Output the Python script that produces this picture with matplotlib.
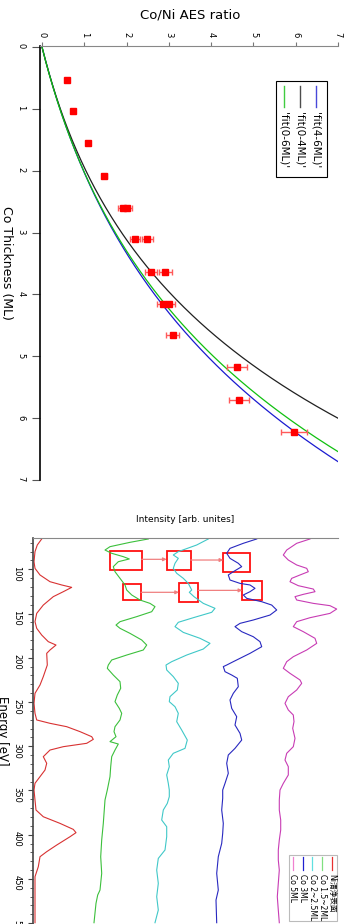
import numpy as np
import matplotlib
matplotlib.use('Agg')
import matplotlib.pyplot as plt
from matplotlib.lines import Line2D
from matplotlib.patches import Rectangle

plt.rcParams['font.family'] = ['DejaVu Sans', 'Noto Sans CJK JP']

# ---- datos: panel superior (razon AES Co/Ni vs espesor) ----
espesor = [0.53, 1.03, 1.56, 2.08, 2.60, 2.60, 3.11, 3.11, 3.63, 3.63, 4.15, 4.15, 4.66, 5.18, 5.70, 6.22]
razon = [0.58, 0.74, 1.08, 1.47, 1.91, 2.02, 2.20, 2.49, 2.58, 2.92, 2.87, 3.01, 3.09, 4.61, 4.66, 5.96]
error = [0.04, 0.04, 0.05, 0.06, 0.12, 0.12, 0.12, 0.13, 0.14, 0.15, 0.14, 0.14, 0.16, 0.23, 0.24, 0.30]

# parametros de los ajustes  r = A*(exp(t/lam)-1)
fit_nombres = ["'fit(4-6ML)'", "'fit(0-4ML)'", "'fit(0-6ML)'"]
fit_A = [1.367, 1.095, 1.277]
fit_lam = [3.7, 3.0, 3.5]
fit_colores = ['#1a1ad0', '#202020', '#10c010']

# ---- datos: panel inferior (espectros AES) ----
E_ni = [65.7, 72.5, 80.0, 91.4, 98.9, 106.4, 114.0, 117.7, 120.4, 125.3, 130.9, 140.4, 149.8, 159.2, 166.7,
        174.3, 181.8, 185.6, 191.2, 195.0, 208.2, 221.3, 230.8, 240.2, 251.5, 262.8, 270.3, 274.1, 277.9,
        283.5, 289.2, 292.2, 296.7, 300.5, 304.3, 311.8, 319.3, 326.9, 334.4, 341.9, 349.5, 360.8, 372.1,
        379.7, 387.2, 394.0, 397.7, 402.3, 411.7, 419.2, 424.9, 436.2, 447.5, 462.6, 499.5]
I_ni = [8.7, 4.3, 2.0, 1.0, 2.0, 7.0, 17.0, 28.7, 38.7, 30.3, 20.3, 10.3, 3.7, 2.0, 3.7,
        8.7, 15.3, 23.0, 17.0, 13.7, 14.3, 10.3, 7.0, 2.0, 1.0, 2.0, 3.7, 17.0, 33.7,
        47.0, 58.7, 60.3, 53.7, 30.3, 17.0, 10.3, 13.7, 12.0, 7.0, 2.0, 1.0, 2.0, 3.0,
        10.3, 27.0, 40.3, 43.0, 37.0, 23.7, 13.7, 7.0, 5.3, 2.0, 2.0, 2.0]

E_co15 = [65.7, 69.5, 74.4, 78.2, 81.9, 85.7, 88.3, 91.4, 97.0, 102.7, 110.2, 117.7, 123.4, 129.0, 134.7,
          138.5, 142.2, 147.9, 153.5, 159.2, 163.0, 166.7, 172.4, 179.9, 185.6, 191.2, 196.9, 202.5,
          208.2, 211.9, 219.5, 227.0, 234.5, 242.1, 249.6, 257.2, 262.8, 270.3, 277.9, 283.5, 289.2,
          294.8, 297.5, 304.3, 311.8, 323.1, 334.4, 349.5, 360.8, 387.2, 406.0, 424.9, 443.7, 462.6,
          468.2, 477.6, 499.5]
I_co15 = [55.3, 37.0, 17.0, 12.0, 18.7, 30.3, 36.3, 25.3, 20.3, 22.0, 27.0, 32.0, 33.7, 38.7, 47.0,
          57.0, 62.0, 58.7, 43.7, 27.0, 23.0, 27.0, 37.0, 48.7, 53.7, 50.3, 33.7, 18.7,
          15.3, 14.3, 20.3, 27.0, 27.7, 24.3, 22.0, 26.3, 28.7, 27.0, 22.0, 21.0, 23.0,
          17.0, 25.3, 22.0, 18.7, 17.7, 17.0, 14.3, 12.0, 10.3, 8.7, 7.7, 8.7, 7.0,
          4.7, 3.0, 1.0]

E_co2 = [65.7, 72.5, 80.0, 83.8, 87.6, 93.2, 98.9, 104.5, 110.2, 115.9, 123.4, 126.0, 130.9, 138.5, 144.1,
         148.6, 154.7, 159.9, 164.8, 171.3, 178.0, 183.7, 190.1, 196.9, 204.4, 208.2, 213.8, 221.3,
         228.9, 236.4, 243.9, 249.6, 255.3, 262.8, 272.2, 281.7, 293.0, 302.4, 308.0, 315.6, 323.1,
         332.5, 342.0, 349.5, 357.0, 364.6, 372.1, 383.4, 391.0, 402.3, 417.3, 426.8, 440.0, 455.0,
         470.1, 485.2, 499.5]
I_co2 = [55.3, 43.7, 25.3, 20.3, 25.3, 22.0, 20.3, 23.7, 30.3, 35.3, 38.7, 36.3, 41.0, 50.3, 62.0,
         58.7, 40.3, 25.3, 22.0, 30.3, 47.0, 57.0, 50.3, 33.7, 18.7, 13.0, 13.7, 20.3,
         25.3, 24.3, 17.0, 16.3, 22.0, 25.3, 23.7, 28.7, 34.3, 32.0, 20.3, 15.3, 16.3,
         13.7, 15.3, 16.3, 16.3, 14.3, 10.3, 8.7, 13.7, 13.7, 12.0, 5.3, 3.7, 5.3,
         3.7, 5.3, 2.0]

E_co3 = [65.7, 70.6, 76.3, 81.9, 87.6, 93.2, 97.0, 102.7, 106.4, 112.1, 115.9, 117.7, 121.5, 125.3, 129.0,
         132.8, 136.6, 140.4, 146.0, 151.7, 157.3, 161.1, 164.8, 170.5, 176.2, 181.8, 187.5, 195.0,
         204.4, 208.2, 210.0, 215.7, 219.5, 223.2, 232.7, 240.2, 247.7, 257.2, 266.6, 276.0, 285.4,
         293.0, 302.4, 309.9, 319.3, 330.6, 342.0, 349.5, 358.9, 372.1, 387.2, 398.5, 409.8, 424.9,
         443.7, 462.6, 473.9, 499.5]
I_co3 = [43.7, 30.3, 17.0, 13.7, 17.0, 25.3, 28.7, 20.3, 15.3, 17.0, 27.0, 37.0, 42.0, 37.0, 30.3,
         33.7, 48.7, 58.7, 63.7, 57.0, 40.3, 27.0, 22.0, 28.7, 40.3, 47.0, 48.7, 37.0,
         20.3, 13.7, 10.3, 12.0, 18.7, 24.3, 25.3, 20.3, 17.0, 18.7, 23.7, 22.0, 27.0,
         28.7, 22.0, 15.3, 13.7, 15.3, 12.0, 9.7, 9.7, 8.7, 10.3, 9.7, 8.7, 5.3,
         3.7, 5.3, 3.0, 3.7]

E_co5 = [65.7, 70.6, 78.2, 83.8, 89.5, 95.1, 98.9, 102.7, 106.4, 110.2, 114.0, 118.5, 122.3, 125.3, 128.3,
         130.9, 134.7, 138.5, 141.1, 144.9, 149.8, 154.7, 159.2, 164.8, 170.5, 178.0, 183.7, 191.2,
         198.8, 204.4, 208.2, 211.9, 217.6, 225.1, 228.9, 236.4, 244.0, 251.5, 259.0, 264.7, 272.2,
         279.8, 291.1, 300.5, 308.0, 315.6, 323.1, 332.5, 342.0, 349.5, 360.8, 372.1, 383.4, 394.7,
         406.0, 417.3, 428.7, 440.0, 455.0, 470.1, 485.2, 499.5]
I_co5 = [37.0, 23.7, 13.7, 10.3, 15.3, 23.7, 33.7, 35.3, 27.0, 18.7, 17.0, 25.3, 40.3, 42.0, 30.3,
         22.0, 23.7, 40.3, 57.0, 63.7, 57.0, 37.0, 23.7, 20.3, 30.3, 42.0, 43.7, 33.7,
         20.3, 13.7, 12.0, 10.3, 17.0, 27.0, 28.7, 23.7, 15.3, 12.0, 15.3, 20.3, 21.0,
         19.7, 22.0, 20.3, 13.7, 12.0, 15.3, 15.3, 10.3, 7.0, 6.3, 6.3, 7.7, 7.7,
         6.3, 5.3, 5.3, 6.3, 5.3, 4.3, 5.3, 6.3]

nombres_esp = ['Ni清浄表面', 'Co 1.5~2ML', 'Co 2~2.5ML', 'Co 3ML', 'Co 5ML']
energias = [E_ni, E_co15, E_co2, E_co3, E_co5]
intensidades = [I_ni, I_co15, I_co2, I_co3, I_co5]
desplazamiento = [0, 60, 120, 180, 240]
colores_esp = ['#d83232', '#3cc03c', '#40c8c8', '#2828c0', '#c83cb4']
colores_ley = ['#e83030', '#80e080', '#60e0e0', '#2020d0', '#f080d0']

# ---- figura ----
W, H = 350, 924
fig = plt.figure(figsize=(W / 100, H / 100), dpi=100)


def fx(x):
    return x / W


def fy(y):
    return 1 - y / H


# panel superior
ax1 = fig.add_axes([fx(40), fy(480), (338 - 40) / W, (480 - 46) / H])
t = np.linspace(0, 7.5, 400)
for nom, A, lam, col in zip(fit_nombres, fit_A, fit_lam, fit_colores):
    ax1.plot(A * (np.exp(t / lam) - 1), t, color=col, lw=0.9)
ax1.errorbar(razon, espesor, xerr=error, fmt='s', color='#ff0000', ms=3.8,
             ecolor='#ff5a5a', elinewidth=1.0, capsize=2.5, capthick=1.0)
ax1.set_xlim(-2 / 42.3, 7)
ax1.set_ylim(7, -1 / 61.9)
ax1.xaxis.tick_top()
ax1.spines['right'].set_visible(False)
ax1.spines['bottom'].set_visible(False)
ax1.spines['top'].set_color('#888888')
ax1.spines['left'].set_color('#000000')
ax1.spines['left'].set_linewidth(1.2)
ax1.set_xticks(range(0, 8))
ax1.set_yticks(range(0, 8))
ax1.tick_params(axis='x', direction='out', length=3, color='#777777', labelsize=6,
                labelrotation=-90, pad=3)
ax1.tick_params(axis='y', direction='out', length=5.5, color='#555555', labelsize=6,
                labelrotation=-90, pad=5)

fig.text(fx(190), fy(15), 'Co/Ni AES ratio', ha='center', va='center', size=9.5)
fig.text(fx(6), fy(263), 'Co Thickness (ML)', ha='center', va='center', size=9, rotation=-90)

# leyenda superior (rotada)
fig.add_artist(Rectangle((fx(276), fy(177)), 51 / W, 96 / H, transform=fig.transFigure,
                         fill=True, facecolor='white', edgecolor='black', lw=0.8))
for nom, col, x in zip(fit_nombres, fit_colores, [316, 300, 284]):
    fig.add_artist(Line2D([fx(x), fx(x)], [fy(86), fy(107)], transform=fig.transFigure,
                          color=col, lw=1.0, alpha=0.8))
    fig.text(fx(x), fy(112), nom, ha='center', va='top', rotation=-90, size=7.5)

# panel inferior
ax2 = fig.add_axes([fx(33), fy(932), 305 / W, (932 - 538) / H])
for E, I, d, col in zip(energias, intensidades, desplazamiento, colores_esp):
    ax2.plot(np.array(I) + d, E, color=col, lw=0.8)
ax2.set_ylim(510, 64.6)
ax2.set_xlim(0, 305)
ax2.set_xticks([])
ax2.set_yticks(range(100, 550, 50))
ax2.set_yticks(range(70, 510, 10), minor=True)
ax2.spines['right'].set_visible(False)
ax2.spines['bottom'].set_visible(False)
ax2.spines['top'].set_color('#888888')
ax2.spines['left'].set_color('#444444')
ax2.spines['left'].set_linewidth(1.2)
ax2.tick_params(axis='y', which='major', direction='out', length=3.5, color='#444444',
                labelsize=6, labelrotation=-90, pad=5)
ax2.tick_params(axis='y', which='minor', direction='out', length=2.5, color='#444444')

# recuadros rojos y flechas
cajas = [(77, 79.3, 31.7, 21.5), (133.7, 79.3, 24, 21.5), (190.3, 81.9, 26.7, 21.5),
         (89.7, 117, 18.3, 17.7), (146, 115.9, 19.3, 20.7), (209.3, 113.2, 19.4, 21.5)]
for x0, e0, w, h in cajas:
    ax2.add_patch(Rectangle((x0, e0), w, h, fill=False, edgecolor='#ff1010', lw=1.3))
flechas = [(108.7, 133.7, 88.7), (157.7, 190.3, 89.5), (108, 146, 126), (165.3, 209.3, 123.8)]
for xa, xb, e in flechas:
    ax2.annotate('', xy=(xb, e), xytext=(xa, e),
                 arrowprops=dict(arrowstyle='-|>', color='#f08080', lw=0.9,
                                 mutation_scale=5, shrinkA=0, shrinkB=0))

fig.text(fx(185), fy(520), 'Intensity [arb. unites]', ha='center', va='center', size=6.5)
fig.text(fx(2), fy(731), 'Energy [eV]', ha='center', va='center', size=8.5, rotation=-90)

# leyenda inferior (rotada)
fig.add_artist(Rectangle((fx(289), fy(921)), 48 / W, 66 / H, transform=fig.transFigure,
                         facecolor='white', edgecolor='#bbbbbb', lw=0.8))
for nom, col, x in zip(nombres_esp, colores_ley, [332, 322, 312, 302.5, 293]):
    fig.add_artist(Line2D([fx(x), fx(x)], [fy(857), fy(870)], transform=fig.transFigure,
                          color=col, lw=0.9))
    fig.text(fx(x), fy(874), nom, ha='center', va='top', rotation=-90, size=5.5)

fig.savefig('out.png', dpi=100)
